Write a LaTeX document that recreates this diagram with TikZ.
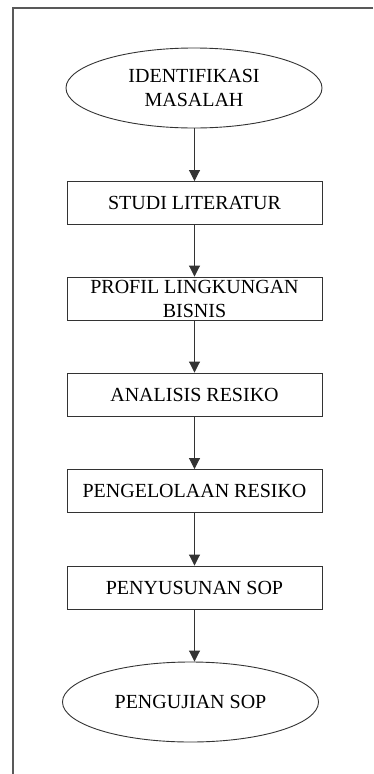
\documentclass[tikz,border=0pt]{standalone}
\usepackage{fontspec}
\setmainfont{Liberation Serif}
\usetikzlibrary{shapes.geometric,arrows.meta}

\begin{document}
\begin{tikzpicture}[x=1pt,y=1pt,font=\fontsize{20}{24}\selectfont,
    line width=0.9pt,draw=black!80,
    term/.style={ellipse,draw,inner sep=0pt,minimum width=256pt,minimum height=80pt,align=center},
    proc/.style={rectangle,draw,inner sep=0pt,minimum width=255pt,minimum height=43pt,align=center},
    flow/.style={-{Triangle[length=11pt,width=11pt]}}]
  \useasboundingbox (0,0) rectangle (373,-774);
  \draw[black!65,line width=1.2pt] (373,-8) -- (13,-8) -- (13,-774);

  \node[term] (ident) at (194,-88) {IDENTIFIKASI\\MASALAH};
  \node[proc] (studi) at (194.5,-203) {STUDI LITERATUR};
  \node[proc] (profil) at (194.5,-298.5) {PROFIL LINGKUNGAN\\BISNIS};
  \node[proc] (analisis) at (194.5,-394.5) {ANALISIS RESIKO};
  \node[proc] (kelola) at (194.5,-491) {PENGELOLAAN RESIKO};
  \node[proc] (susun) at (194.5,-587.5) {PENYUSUNAN SOP};
  \node[term] (uji) at (190.5,-702) {PENGUJIAN SOP};

  \draw[flow] (studi.north |- ident.south) -- (studi);
  \draw[flow] (studi) -- (profil);
  \draw[flow] (profil) -- (analisis);
  \draw[flow] (analisis) -- (kelola);
  \draw[flow] (kelola) -- (susun);
  \draw[flow] (susun.south) -- (susun.south |- uji.north);
\end{tikzpicture}
\end{document}
